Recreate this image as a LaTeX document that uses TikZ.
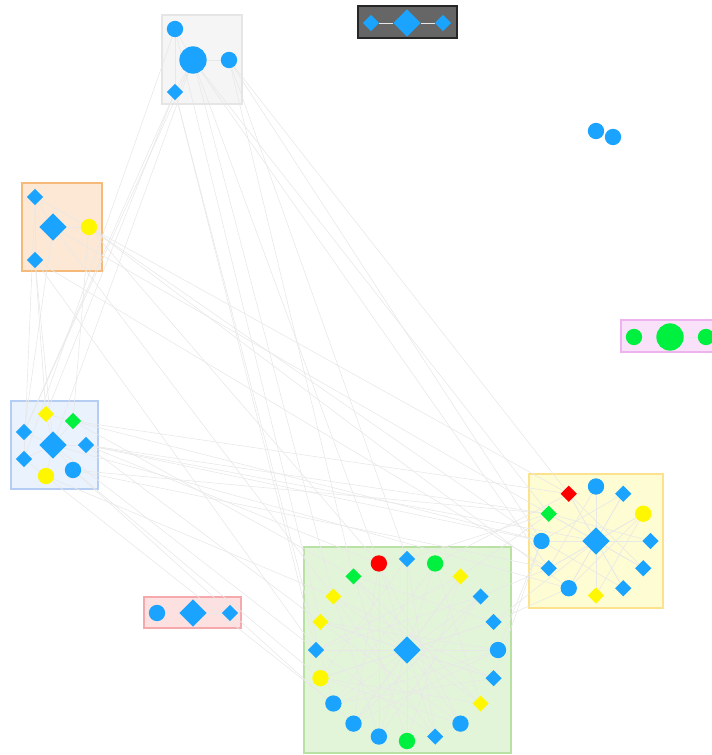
\documentclass[tikz,border=0pt]{standalone}
\usetikzlibrary{shapes.geometric, calc}
\definecolor{nodeblue}{HTML}{1AA3FF}
\definecolor{nodegreen}{HTML}{00F040}
\definecolor{nodeyellow}{HTML}{FFF700}
\definecolor{nodered}{HTML}{FF0000}
\definecolor{bluefill}{HTML}{EAF2FD}
\definecolor{blueline}{HTML}{B5CDF3}
\definecolor{greenfill}{HTML}{E3F5D9}
\definecolor{greenline}{HTML}{B8E1A3}
\definecolor{yellowfill}{HTML}{FEFCD2}
\definecolor{yellowline}{HTML}{FCE28C}
\definecolor{orangefill}{HTML}{FCE8D5}
\definecolor{orangeline}{HTML}{F5B979}
\definecolor{pinkfill}{HTML}{FDE1E1}
\definecolor{pinkline}{HTML}{F6A9AC}
\definecolor{violetfill}{HTML}{F9E2F9}
\definecolor{violetline}{HTML}{EEB2EE}
\pgfdeclarelayer{boxes}
\pgfdeclarelayer{links}
\pgfsetlayers{boxes,links,main}
\tikzset{
  member/.style={inner sep=0pt, draw=none, minimum size=4.9mm},
  hub/.style={inner sep=0pt, draw=none, minimum size=8.2mm},
  dot/.style={member, circle, fill=#1},
  gem/.style={member, diamond, fill=#1},
  bigdot/.style={hub, circle, fill=#1},
  biggem/.style={hub, diamond, fill=#1},
  link/.style={draw=black!9, line width=0.5pt},
  groupbox/.style 2 args={draw=#1, fill=#2, line width=1.2pt},
}

\begin{document}
\begin{tikzpicture}[x=0.3mm, y=-0.3mm]
  \useasboundingbox (0,0) rectangle (711,755);

  % Group boxes
  \begin{pgfonlayer}{boxes}
    \draw[groupbox={black!10}{black!4}] (162,15) rectangle (242,104);
    \draw[groupbox={black!85}{black!60}, line width=2pt] (358,6) rectangle (457,38);
    \draw[groupbox={orangeline}{orangefill}] (22,183) rectangle (102,271);
    \draw[groupbox={blueline}{bluefill}] (11,401) rectangle (98,489);
    \draw[groupbox={yellowline}{yellowfill}] (529,474) rectangle (663,608);
    \draw[groupbox={greenline}{greenfill}] (304,547) rectangle (511,753);
    \draw[groupbox={pinkline}{pinkfill}] (144,597) rectangle (241,628);
    \draw[groupbox={violetline}{violetfill}] (621,320) rectangle (730,352);
  \end{pgfonlayer}

  % Top box
  \node[dot=nodeblue] (t1) at (175,29) {};
  \node[bigdot=nodeblue] (t2) at (193,60) {};
  \node[dot=nodeblue] (t3) at (229,60) {};
  \node[gem=nodeblue] (t4) at (175,92) {};

  % Dark box
  \node[gem=nodeblue] (d1) at (371,23) {};
  \node[biggem=nodeblue] (d2) at (407,23) {};
  \node[gem=nodeblue] (d3) at (443,23) {};

  % Lone pair
  \node[dot=nodeblue] (s1) at (596,131) {};
  \node[dot=nodeblue] (s2) at (613,137) {};

  % Orange box
  \node[gem=nodeblue] (o1) at (35,197) {};
  \node[biggem=nodeblue] (o2) at (53,227) {};
  \node[dot=nodeyellow] (o3) at (89,227) {};
  \node[gem=nodeblue] (o4) at (35,260) {};

  % Violet box
  \node[dot=nodegreen] (m1) at (634,337) {};
  \node[bigdot=nodegreen] (m2) at (670,337) {};
  \node[dot=nodegreen] (m3) at (706,337) {};

  % Blue box
  \node[gem=nodeyellow] (b1) at (46,414) {};
  \node[gem=nodegreen] (b2) at (73,421) {};
  \node[gem=nodeblue] (b3) at (24,432) {};
  \node[biggem=nodeblue] (b4) at (53,445) {};
  \node[gem=nodeblue] (b5) at (86,445) {};
  \node[gem=nodeblue] (b6) at (24,459) {};
  \node[dot=nodeyellow] (b7) at (46,476) {};
  \node[dot=nodeblue] (b8) at (73,470) {};

  % Pink box
  \node[dot=nodeblue] (p1) at (157,613) {};
  \node[biggem=nodeblue] (p2) at (193,613) {};
  \node[gem=nodeblue] (p3) at (230,613) {};

  % Yellow ring
  \node[biggem=nodeblue] (ymid) at (596,541) {};
  \foreach \s/\c [count=\i from 0] in {circle/nodeblue, diamond/nodeblue,
      circle/nodeyellow, diamond/nodeblue, diamond/nodeblue, diamond/nodeblue,
      diamond/nodeyellow, circle/nodeblue, diamond/nodeblue, circle/nodeblue,
      diamond/nodegreen, diamond/nodered}
    \node[member, shape=\s, fill=\c] (y\i)
      at ($(ymid)+({54.5*cos(90-30*\i)},{-54.5*sin(90-30*\i)})$) {};

  % Green ring
  \node[biggem=nodeblue] (gmid) at (407,650) {};
  \foreach \s/\c [count=\i from 0] in {diamond/nodeblue, circle/nodegreen,
      diamond/nodeyellow, diamond/nodeblue, diamond/nodeblue, circle/nodeblue,
      diamond/nodeblue, diamond/nodeyellow, circle/nodeblue, diamond/nodeblue,
      circle/nodegreen, circle/nodeblue, circle/nodeblue, circle/nodeblue,
      circle/nodeyellow, diamond/nodeblue, diamond/nodeyellow, diamond/nodeyellow,
      diamond/nodegreen, circle/nodered}
    \node[member, shape=\s, fill=\c] (g\i)
      at ($(gmid)+({91*cos(90-18*\i)},{-91*sin(90-18*\i)})$) {};

  % Links
  \begin{pgfonlayer}{links}
    \foreach \i in {0,...,11} \draw[link] (ymid) -- (y\i);
    \foreach \i in {0,...,19} \draw[link] (gmid) -- (g\i);
    \foreach \a/\b in {t1/t2, t2/t3, t2/t4, t1/t4, d1/d2, d2/d3, m2/m3, p2/p3,
        o1/o4, o2/o3, o1/o2,
        b4/b1, b4/b2, b4/b3, b4/b5, b4/b6, b4/b7, b4/b8, b1/b2, b3/b6,
        y0/y6, y1/y9, y2/y8, y3/y10, y4/y11, y5/y9, y7/y1, y2/y7, y0/y8,
        y10/y4, y11/y5, y6/y2, y9/y3,
        g0/g10, g1/g13, g2/g15, g3/g12, g4/g14, g5/g16, g6/g17, g7/g18,
        g8/g19, g9/g0, g10/g2, g11/g3, g12/g5, g13/g6, g14/g7, g15/g9,
        g16/g8, g17/g11, g18/g10, g19/g12, g1/g7, g3/g15, g5/g13, g9/g17,
        g0/g14, g2/g12, g4/g18, g6/g16, g8/g14, g11/g19,
        t4/b3, t4/b1, t2/b4, t1/b6, t2/b3,
        t2/g17, t4/g15, t2/g19, t3/g0, t1/g16, t3/g18, t4/g13,
        t3/y9, t2/y10, t3/y11, t2/y8,
        o2/b3, o4/b1, o1/b6, o3/b2, o4/b4,
        o3/y9, o2/y10, o3/y7, o1/y11, o4/y8,
        o2/g17, o3/g19, o4/g15,
        b5/y9, b5/y10, b2/y11, b8/y8, b4/y7, b5/ymid, b2/y9, b8/y10,
        b5/g16, b4/g15, b7/g17, b8/g14, b6/g13, b2/g18, b5/g19, b8/g12,
        g5/y9, g3/y8, g4/y7, g2/y10, g1/y11, g6/y9, g0/y10, g4/ymid}
      \draw[link] (\a) -- (\b);
  \end{pgfonlayer}
\end{tikzpicture}
\end{document}
